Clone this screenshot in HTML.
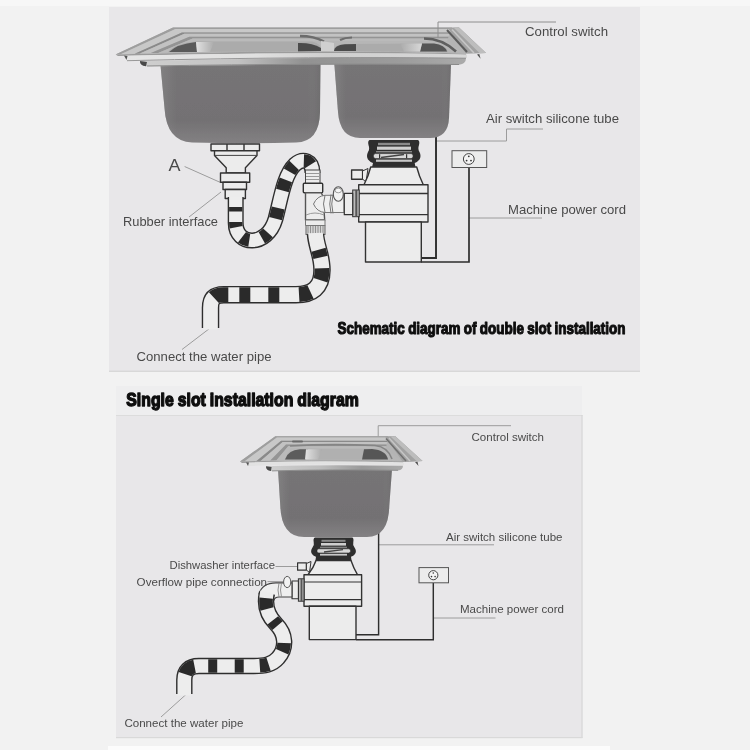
<!DOCTYPE html>
<html>
<head>
<meta charset="utf-8">
<title>Installation diagram</title>
<style>
  html, body { margin: 0; padding: 0; background: #f2f2f2; }
  body { width: 750px; height: 750px; overflow: hidden; position: relative;
         font-family: "Liberation Sans", sans-serif; }
  svg { position: absolute; left: 0; top: 0; display: block; }
  text { font-family: "Liberation Sans", sans-serif; }
  .lbl { fill: #4a4a4a; font-size: 13px; }
  .lbl2 { fill: #4a4a4a; font-size: 11.4px; }
  .ttl { fill: #0a0a0a; font-weight: bold; stroke: #0a0a0a; stroke-width: 1.15px; stroke-linejoin: round; word-spacing: -0.5px; }
  .ln { stroke: #9c9c9c; stroke-width: 1; fill: none; }
  .wire { stroke: #2e2e2e; stroke-width: 1.45; fill: none; }
  .ol { stroke: #333; stroke-width: 1.4; fill: #ececec; stroke-linejoin: round; }
</style>
</head>
<body>
<svg width="750" height="750" viewBox="0 0 750 750">
  <defs>
    <filter id="soft" x="0" y="0" width="750" height="750" filterUnits="userSpaceOnUse"><feGaussianBlur stdDeviation="0.55"/></filter>
    <filter id="soft2" x="0" y="0" width="750" height="750" filterUnits="userSpaceOnUse"><feGaussianBlur stdDeviation="0.35"/></filter>
    <linearGradient id="bowlV" x1="0" y1="0" x2="0" y2="1">
      <stop offset="0" stop-color="#767476"/>
      <stop offset="0.72" stop-color="#737173"/>
      <stop offset="1" stop-color="#838183"/>
    </linearGradient>
    <linearGradient id="bowlH" x1="0" y1="0" x2="1" y2="0">
      <stop offset="0" stop-color="#8a8a8a" stop-opacity="0.55"/>
      <stop offset="0.1" stop-color="#888" stop-opacity="0"/>
      <stop offset="0.92" stop-color="#888" stop-opacity="0"/>
      <stop offset="1" stop-color="#666" stop-opacity="0.4"/>
    </linearGradient>
    <linearGradient id="rimTop" x1="0" y1="0" x2="0" y2="1">
      <stop offset="0" stop-color="#8a8a8a"/>
      <stop offset="0.15" stop-color="#d2d2d2"/>
      <stop offset="0.35" stop-color="#9c9c9c"/>
      <stop offset="0.55" stop-color="#c8c8c8"/>
      <stop offset="0.8" stop-color="#a4a4a4"/>
      <stop offset="1" stop-color="#8c8c8c"/>
    </linearGradient>
    <linearGradient id="fadeL" x1="0" y1="0" x2="1" y2="0">
      <stop offset="0" stop-color="#e2e2e2"/><stop offset="1" stop-color="#ababab"/>
    </linearGradient>
    <linearGradient id="fadeR" x1="0" y1="0" x2="1" y2="0">
      <stop offset="0" stop-color="#ababab"/><stop offset="1" stop-color="#d8d8d8"/>
    </linearGradient>
    <linearGradient id="frontHi" x1="116" y1="0" x2="467" y2="0" gradientUnits="userSpaceOnUse">
      <stop offset="0" stop-color="#e6e6e6"/><stop offset="0.4" stop-color="#e0e0e0"/>
      <stop offset="0.6" stop-color="#cfcfcf"/><stop offset="1" stop-color="#d8d8d8"/>
    </linearGradient>
    <linearGradient id="frontLip" x1="140" y1="0" x2="466" y2="0" gradientUnits="userSpaceOnUse">
      <stop offset="0" stop-color="#cfcfcf"/><stop offset="0.3" stop-color="#c2c2c2"/>
      <stop offset="0.5" stop-color="#929292"/><stop offset="0.8" stop-color="#9c9c9c"/><stop offset="1" stop-color="#aaa"/>
    </linearGradient>
    <linearGradient id="frontLip2" x1="266" y1="0" x2="403" y2="0" gradientUnits="userSpaceOnUse">
      <stop offset="0" stop-color="#cfcfcf"/><stop offset="0.4" stop-color="#bdbdbd"/>
      <stop offset="0.7" stop-color="#9a9a9a"/><stop offset="1" stop-color="#aaa"/>
    </linearGradient>
  </defs>

  <!-- backgrounds -->
  <rect x="0" y="0" width="750" height="750" fill="#f2f2f2"/>
  <rect x="0" y="0" width="750" height="6" fill="#f7f7f7"/>
  <rect x="109" y="7" width="531" height="364.5" fill="#e8e7e9"/>
  <rect x="109" y="370.6" width="531" height="1.4" fill="#d8d8d8"/>
  <rect x="116" y="386" width="466" height="30" fill="#eeeeef"/>
  <rect x="116" y="415" width="466.5" height="323" fill="#e8e7e9"/>
  <rect x="116" y="415" width="466.5" height="1" fill="#dcdcdc"/>
  <rect x="581.5" y="415" width="1" height="323" fill="#d4d4d4"/>
  <rect x="116" y="737" width="466.5" height="1.2" fill="#d9d9d9"/>
  <rect x="108" y="746" width="502" height="4" fill="#fcfcfc"/>

  <!-- ============ TOP DIAGRAM ============ -->
  <g id="top" filter="url(#soft)">
    <!-- label leader lines -->
    <path class="ln" d="M436,141 H506.5 V129 H543"/>
    <path class="ln" d="M469,218 H542"/>
    <path class="ln" d="M184.6,166.5 L220.5,182.5"/>
    <path class="ln" d="M221,192 L189,217"/>
    <path class="ln" d="M211.5,327 L182,349.5"/>

    <!-- wires -->
    <path class="wire" d="M436,133 V258 H421" style="stroke-width:1.9"/>
    <path class="wire" d="M421,262 H469 V167" style="stroke-width:1.7"/>
    <!-- outlet -->
    <rect x="452" y="150.7" width="34.7" height="16.8" fill="#ececec" stroke="#555" stroke-width="1"/>
    <circle cx="468.8" cy="159" r="5.4" fill="#f4f4f4" stroke="#444" stroke-width="1"/>
    <circle cx="468.8" cy="156.3" r="0.9" fill="#333"/>
    <circle cx="466.6" cy="160.6" r="0.9" fill="#333"/>
    <circle cx="471" cy="160.6" r="0.9" fill="#333"/>

    <!-- bowls -->
    <path d="M160.5,65 L164.5,108 Q166.5,141.5 192,142.5 Q245,144 296,142.5 Q319.5,142 320,112 L320.5,63 Z" fill="url(#bowlV)"/>
    <path d="M160.5,65 L164.5,108 Q166.5,141.5 192,142.5 Q245,144 296,142.5 Q319.5,142 320,112 L320.5,63 Z" fill="url(#bowlH)"/>
    <path d="M334.3,63 L338,112 Q340,138 360,138 L430,138 Q448,138 449,118 L451,64 Z" fill="url(#bowlV)"/>
    <path d="M334.3,63 L338,112 Q340,138 360,138 L430,138 Q448,138 449,118 L451,64 Z" fill="url(#bowlH)"/>

    <!-- rim top surface -->
    <path d="M173,27.5 L459,27.5 L486,53 L466,53.5 Q320,49 115.5,54.5 Z" fill="#b4b4b4"/>
    <path d="M115.5,54.5 L173.0,27.5 L452.0,27.5 L451.5,28.9 L175.4,28.9 L120.7,54.3 Z" fill="#9e9e9e"/>
    <path d="M120.7,54.3 L175.4,28.9 L451.5,28.9 L450.1,32.5 L181.9,32.5 L134.7,53.8 Z" fill="#c8c8c8"/>
    <path d="M134.7,53.8 L181.9,32.5 L450.1,32.5 L449.6,33.8 L184.3,33.8 L139.9,53.6 Z" fill="#8a8a8a"/>
    <path d="M139.9,53.6 L184.3,33.8 L449.6,33.8 L448.6,36.7 L189.3,36.7 L150.9,53.1 Z" fill="#c2c2c2"/>
    <path d="M150.9,53.1 L189.3,36.7 L448.6,36.7 L447.9,38.6 L192.7,38.6 L158.1,52.9 Z" fill="#949494"/>
    <path d="M158.1,52.9 L192.7,38.6 L447.9,38.6 L447.0,41.0 L197.0,41.0 L167.5,52.5 Z" fill="#bababa"/>
    <path d="M167.5,52.8 L197,41 L447,41 L463,52.5 Q320,49.5 167.5,52.8 Z" fill="#b6b6b6"/>
    <!-- right flange -->
    <path d="M448,28 L459,27.5 L486,53 L466,53.5 Z" fill="#a2a2a2"/>
    <path d="M454,28 L459,27.5 L486,53 L480,53.5 Z" fill="#bdbdbd"/>
    <path d="M447,30 L467,52" stroke="#5c5c5c" stroke-width="2"/>
    <path d="M452,29.5 L474,53" stroke="#c6c6c6" stroke-width="1.6"/>
    <path d="M477,54.5 L480.6,58.8 L479.3,54 Z" fill="#505050"/>
    <!-- inner basins -->
    <path d="M168,52 Q176,43 196,41.5 L312,41.5 Q322,44 322,51 Z" fill="#ababab"/>
    <path d="M169,52 Q177,44 196,42 L197,52 Z" fill="#5a5a5a"/>
    <path d="M196,42 L214,42 L210,52 L197,52 Z" fill="url(#fadeL)"/>
    <path d="M298,43 Q312,42.5 321,48 L321,51 L298,51.5 Z" fill="#4c4c4c"/>
    <path d="M300,36 Q314,36 324,41.5" stroke="#6c6c6c" stroke-width="2.4" fill="none"/>
    <path d="M334,51 Q334,45.5 342,44 L434,43.5 Q446,45 448,52 Z" fill="#ababab"/>
    <path d="M334,51 Q334,45.5 345,44.3 L356,44 L356,51 Z" fill="#4c4c4c"/>
    <path d="M340,40 Q345,37.5 352,37.5" stroke="#6c6c6c" stroke-width="2.2" fill="none"/>
    <path d="M422,43.5 L434,43.5 Q445,45 447,51.5 L420,51.5 Z" fill="#555"/>
    <path d="M400,43.5 L422,43.5 L420,51.5 L404,51.5 Z" fill="url(#fadeR)"/>
    <path d="M424,38.5 Q442,38.5 456,51.5" stroke="#5e5e5e" stroke-width="2.6" fill="none"/>
    <!-- divider bridge -->
    <path d="M321,41 L334,43 L334,52 L321,52 Z" fill="#cfcfcf"/>
    <!-- front band -->
    <path d="M115.5,54.5 Q320,49 466,53.5 L466,55 Q320,51.5 118,56 Z" fill="#9c9c9c"/>
    <path d="M124,55.8 Q320,51 467,54.5 L467,58 Q320,55 126,60.5 Z" fill="url(#frontHi)"/>
    <path d="M124,55.5 L126.5,60 L127.5,56 Z" fill="#555"/>
    <path d="M140,61 Q320,56.5 466,58 Q466,64 459,64.7 Q320,63.5 146,66.3 Q140,66 140,61 Z" fill="url(#frontLip)"/>
    <path d="M140,61 Q139.5,65.5 146,66.3 L147,62 Z" fill="#4a4a4a"/>
    <path d="M147,66 Q320,63.3 459,64.5" stroke="#8a8a8a" stroke-width="1" fill="none"/>
    <path d="M127,60.7 Q320,56 466,58.2" stroke="#8f8f8f" stroke-width="0.9" fill="none"/>

    <path class="ln" d="M438,37.5 V22 H556" style="stroke:#8e8e8e"/>
    <!-- left drain fitting -->
    <rect class="ol" x="211" y="144" width="48.5" height="6.8"/>
    <path class="ol" d="M227,144 V150.8 M244,144 V150.8" />
    <path class="ol" d="M214.5,150.8 H257 V155.4 L245.4,167.7 V173 H226.2 V167.7 L214.5,155.4 Z"/>
    <path d="M214.5,155.4 H257" stroke="#444" stroke-width="1"/>
    <rect class="ol" x="220.5" y="173" width="29.2" height="9.2"/>
    <rect class="ol" x="223" y="182.2" width="23.5" height="7.3"/>
    <rect class="ol" x="225.2" y="189.5" width="20.2" height="9"/>

    <!-- hose 1 -->
    <path id="h1" d="M235.7,197 L235.7,223 C235.7,246 267,248 275.5,219 C281,198 284,175 295,164.5 C303,157.5 312.5,160.5 312.5,173" fill="none" stroke="#2e2e2e" stroke-width="16"/>
    <path d="M235.7,197 L235.7,223 C235.7,246 267,248 275.5,219 C281,198 284,175 295,164.5 C303,157.5 312.5,160.5 312.5,173" fill="none" stroke="#ededed" stroke-width="13.2"/>
    <path d="M235.7,197 L235.7,223 C235.7,246 267,248 275.5,219 C281,198 284,175 295,164.5 C303,157.5 312.5,160.5 312.5,173" fill="none" stroke="#2b2b2b" stroke-width="13.2" stroke-dasharray="0 10 4.5 10.5 5 12 8 13 8 16 11 18 11 9 8 11 8 100"/>

    <!-- T junction -->
    <rect x="305.5" y="170" width="14.5" height="14" fill="#ececec" stroke="#444" stroke-width="1"/>
    <path d="M306,173.5 H320 M306,176.5 H320 M306,179.5 H320" stroke="#999" stroke-width="1"/>
    <rect class="ol" x="303.3" y="183.3" width="19.4" height="9.4" rx="1"/>
    <path class="ol" d="M305.5,192.7 H321 L323,196 L324.7,220 H305.5 Z" style="stroke:#555"/>
    <path d="M306,215 Q315,211 324,215" stroke="#999" fill="none"/>
    <rect x="306" y="225.5" width="19" height="9" fill="#d4d4d4" stroke="#666" stroke-width="1"/>
    <path d="M308,226 V234 M310.5,226 V234 M313,226 V234 M315.5,226 V234 M318,226 V234 M320.5,226 V234 M323,226 V234" stroke="#888" stroke-width="0.9"/>
    <path d="M305.5,220 H325 V225.5 H305.5 Z" fill="#ececec" stroke="#777" stroke-width="1"/>
    <!-- side branch -->
    <path d="M313.5,204 Q317,196 325,195.3 H344 V212.5 H325 Q317,212 313.5,204 Z" fill="#efefef" stroke="#777" stroke-width="1"/>
    <path d="M325,195.3 Q322,204 325,212.5 M331,194.5 Q328.5,204 331,213.5 M333,194.5 Q330.5,204 333,213.5" stroke="#777" fill="none" stroke-width="1"/>
    <ellipse cx="338.3" cy="194" rx="5" ry="7.2" fill="#f2f2f2" stroke="#555" stroke-width="1.1"/>
    <ellipse cx="338.3" cy="190.5" rx="3.2" ry="2.3" fill="#f6f6f6" stroke="#888" stroke-width="0.8"/>

    <!-- hose 2 -->
    <path d="M315.5,234 C316,246 322,255 322,270 C322,288 312,294.7 296,294.7 L224,294.7 C214.5,294.7 210.5,298.5 210.5,308 L210.5,328" fill="none" stroke="#2e2e2e" stroke-width="17.5"/>
    <path d="M315.5,233 C316,246 322,255 322,270 C322,288 312,294.7 296,294.7 L224,294.7 C214.5,294.7 210.5,298.5 210.5,308 L210.5,329.5" fill="none" stroke="#ededed" stroke-width="14.7"/>
    <path d="M315.5,234 C316,246 322,255 322,270 C322,288 312,294.7 296,294.7 L224,294.7 C214.5,294.7 210.5,298.5 210.5,308 L210.5,328" fill="none" stroke="#2b2b2b" stroke-width="14.7" stroke-dasharray="0 16 8 11 12 16 12 19.5 11 18 11 11 15 100"/>

    <!-- disposer -->
    <rect class="ol" x="351.6" y="170" width="11" height="9.3"/>
    <path class="ol" d="M362.5,171 L368,168.5 L366,182 L362.5,179 Z" style="stroke-width:1"/>
    <!-- neck -->
    <path d="M369.5,140 H418 Q420,141 419,145 Q417.5,149 419.5,152 Q421.5,156 419.5,159.5 Q417.5,162 414.7,163 L415.5,167.3 H372 L373,163 Q370,162 368,159.5 Q366,156 368,152 Q370,149 368.5,145 Q367.5,141 369.5,140 Z" fill="#2d2d2d"/>
    <rect x="378" y="142.8" width="32" height="2.4" fill="#8a8a8a"/>
    <rect x="377" y="146.6" width="34" height="3.2" fill="#cfcfcf"/>
    <rect x="376" y="151" width="36" height="1.4" fill="#888"/>
    <rect x="373.5" y="153.6" width="39.5" height="5" rx="2" fill="#d8d8d8" stroke="#2d2d2d" stroke-width="0.6"/>
    <path d="M381,157.5 L404,154.5" stroke="#444" stroke-width="1.6"/>
    <rect x="379" y="154.2" width="1.2" height="4" fill="#333"/><rect x="406" y="154.2" width="1.2" height="4" fill="#333"/>
    <rect x="376" y="159.6" width="36" height="2.2" fill="#c8c8c8"/>
    <!-- dome -->
    <path class="ol" d="M370.7,167 H416.7 Q419,176 423.3,184.7 H364 Q368.5,176 370.7,167 Z"/>
    <!-- band -->
    <rect class="ol" x="358.7" y="184.7" width="69.3" height="37.3"/>
    <path d="M358.7,193.5 H428 M358.7,214.7 H428" stroke="#333" stroke-width="1.3"/>
    <!-- lower body -->
    <rect class="ol" x="365.5" y="222" width="55.8" height="40"/>
    <!-- side outlet -->
    <rect x="352.7" y="190" width="6.5" height="26.7" fill="#bbb" stroke="#333" stroke-width="1"/>
    <rect x="355.3" y="190" width="2" height="26.7" fill="#555"/>
    <rect class="ol" x="344.3" y="193.3" width="8.4" height="21.4" style="stroke-width:1.2"/>
  </g>

  <!-- ============ BOTTOM DIAGRAM ============ -->
  <g id="bottom" filter="url(#soft)">
    <!-- leader lines -->
    <path class="ln" d="M378.2,438 V425.7 H511"/>
    <path class="ln" d="M378,544.8 H494"/>
    <path class="ln" d="M433.3,618 H495.5"/>
    <path class="ln" d="M275.5,566.5 H297.6"/>
    <path class="ln" d="M267.5,581.6 H283"/>
    <path class="ln" d="M186,694.5 L161,717"/>
    <!-- wires -->
    <path class="wire" d="M378.6,531 V634.8 H356"/>
    <path class="wire" d="M356,639.8 H433.3 V582.8"/>
    <!-- outlet -->
    <rect x="419" y="567.6" width="29.5" height="15.2" fill="#ececec" stroke="#555" stroke-width="1"/>
    <circle cx="433.3" cy="575.2" r="4.6" fill="#f4f4f4" stroke="#444" stroke-width="1"/>
    <circle cx="433.3" cy="573" r="0.8" fill="#333"/>
    <circle cx="431.5" cy="576.6" r="0.8" fill="#333"/>
    <circle cx="435.1" cy="576.6" r="0.8" fill="#333"/>

    <!-- bowl -->
    <path d="M278,469 L280.3,506 Q281.5,537 304,537 L367,537 Q388.5,537 389.3,506 L392,469 Z" fill="url(#bowlV)"/>
    <path d="M278,469 L280.3,506 Q281.5,537 304,537 L367,537 Q388.5,537 389.3,506 L392,469 Z" fill="url(#bowlH)"/>

    <!-- rim -->
    <path d="M275.3,436.2 L395.3,436.2 L422.5,461 L403,462 Q320,459 240,461.5 Z" fill="#b4b4b4"/>
    <path d="M240.0,461.5 L275.3,436.2 L388.0,436.2 L387.8,437.4 L276.9,437.4 L244.4,461.4 Z" fill="#9e9e9e"/>
    <path d="M244.4,461.4 L276.9,437.4 L387.8,437.4 L387.3,440.8 L281.1,440.8 L256.5,460.9 Z" fill="#c8c8c8"/>
    <path d="M256.5,460.9 L281.1,440.8 L387.3,440.8 L387.1,442.0 L282.7,442.0 L260.9,460.8 Z" fill="#8a8a8a"/>
    <path d="M260.9,460.8 L282.7,442.0 L387.1,442.0 L386.6,444.6 L286.0,444.6 L270.3,460.5 Z" fill="#c2c2c2"/>
    <path d="M270.3,460.5 L286.0,444.6 L386.6,444.6 L386.4,446.3 L288.2,446.3 L276.5,460.3 Z" fill="#949494"/>
    <path d="M276.5,460.3 L288.2,446.3 L386.4,446.3 L386.0,448.5 L291.0,448.5 L284.5,460.0 Z" fill="#bababa"/>
    <path d="M284.5,460 L291,448.5 L386,448.5 L401,460.5 Q320,458.5 284.5,460 Z" fill="#b6b6b6"/>
    <rect x="292" y="440.6" width="11" height="2" rx="1" fill="#6a6a6a"/>
    <!-- right flange -->
    <path d="M385,436.5 L395.3,436.2 L422.5,461 L403,462 Z" fill="#a2a2a2"/>
    <path d="M390.5,436.5 L395.3,436.2 L422.5,461 L417,461.5 Z" fill="#bdbdbd"/>
    <path d="M386,438.5 L406,461" stroke="#6f6f6f" stroke-width="1.5"/>
    <path d="M389,438 L410,461" stroke="#c6c6c6" stroke-width="1.5"/>
    <path d="M415,462 L418.5,466 L417.5,461.8 Z" fill="#505050"/>
    <!-- basin interior -->
    <path d="M285,459.5 Q288,450 300,449 L372,449 Q386,450 388,459.5 Z" fill="#b0b0b0"/>
    <path d="M285,459.5 Q288,450 300,449.3 L308,449.3 L306,459.5 Z" fill="#5c5c5c"/>
    <path d="M306,449.3 L322,449.3 L318,459.5 L305,459.5 Z" fill="url(#fadeL)"/>
    <path d="M364,449.3 L372,449 Q386,450 388,459.5 L362,459.5 Z" fill="#575757"/>
    <path d="M290,446 Q330,443.5 375,445.5 Q388,447 392,459" stroke="#858585" stroke-width="1.6" fill="none"/>
    <!-- front band -->
    <path d="M240,461.5 Q320,459 403,461.5 L403,463 Q320,460.5 242,463 Z" fill="#9c9c9c"/>
    <path d="M246,462.5 Q320,460 404,462.3 L404,465.3 Q320,463.5 248,466 Z" fill="#e2e2e2"/>
    <path d="M246,462.3 L248,466 L249,462.6 Z" fill="#555"/>
    <path d="M266,466.3 Q320,464.5 403,465.8 Q403,470 398,470.5 Q330,469.5 271,471 Q266,470.7 266,466.3 Z" fill="url(#frontLip2)"/>
    <path d="M266,466.3 Q265.7,470.3 271,471 L271.6,467 Z" fill="#4a4a4a"/>
    <path d="M272,470.9 Q330,469.3 398,470.3" stroke="#8a8a8a" stroke-width="0.9" fill="none"/>

    <!-- disposer -->
    <rect class="ol" x="297.6" y="562.8" width="8.8" height="7.4" style="stroke-width:1.2"/>
    <path class="ol" d="M306.4,563.5 L311,561.5 L309.5,572.5 L306.4,570 Z" style="stroke-width:1"/>
    <!-- neck -->
    <path d="M315,537.6 H352.3 Q354,538.5 353.3,542 Q352.5,545 354.5,547.5 Q357,551 355,554 Q353.5,556 351,556.8 L351.6,560.7 H315.4 L316,556.8 Q313.5,556 312,554 Q310,551 312.5,547.5 Q314.5,545 313.7,542 Q313,538.5 315,537.6 Z" fill="#2d2d2d"/>
    <rect x="321.5" y="539.8" width="24" height="2" fill="#8a8a8a"/>
    <rect x="321" y="543" width="25" height="2.6" fill="#cfcfcf"/>
    <rect x="320" y="546.7" width="27" height="1.2" fill="#888"/>
    <rect x="317" y="548.8" width="33.5" height="4.2" rx="1.8" fill="#d8d8d8" stroke="#2d2d2d" stroke-width="0.6"/>
    <path d="M324,552 L343,549.6" stroke="#444" stroke-width="1.4"/>
    <rect x="320" y="553.8" width="27" height="1.8" fill="#c8c8c8"/>
    <!-- dome -->
    <path class="ol" d="M316,560.5 H351 Q353.5,568 357.6,574.8 H308 Q313.5,568 316,560.5 Z"/>
    <!-- band -->
    <rect class="ol" x="304" y="574.8" width="57.6" height="31.4"/>
    <path d="M304,582 H361.6 M304,599.6 H361.6" stroke="#333" stroke-width="1.2"/>
    <!-- lower body -->
    <rect class="ol" x="309.3" y="606.2" width="46.7" height="33.4"/>
    <!-- side outlet -->
    <rect x="298.4" y="578.8" width="5.6" height="22.4" fill="#bbb" stroke="#333" stroke-width="1"/>
    <rect x="300.6" y="578.8" width="1.8" height="22.4" fill="#555"/>
    <rect class="ol" x="292" y="581" width="6.4" height="17.8" style="stroke-width:1.1"/>
    <!-- elbow pipe -->
    <path d="M292,582.8 H276 Q262,583 259,594 L274,600 Q275,597 279,597 H292 Z" fill="#efefef" stroke="#444" stroke-width="1.2"/>
    <path d="M279,583 Q277,590 279,597 M281.5,583 Q279.5,590 281.5,597" stroke="#888" stroke-width="0.9" fill="none"/>
    <ellipse cx="287.2" cy="582" rx="3.6" ry="5.6" fill="#f2f2f2" stroke="#555" stroke-width="1"/>

    <!-- hose -->
    <path d="M267,593 C264,606 268,616 276,624 C286,634 287,648 278,658 C272,665 264,666 254,666 L199,666 C189,666 184.3,671 184.3,680 L184.3,694" fill="none" stroke="#2e2e2e" stroke-width="16.4"/>
    <path d="M267,592 C264,606 268,616 276,624 C286,634 287,648 278,658 C272,665 264,666 254,666 L199,666 C189,666 184.3,671 184.3,680 L184.3,695.5" fill="none" stroke="#ededed" stroke-width="13.6"/>
    <path d="M267,593 C264,606 268,616 276,624 C286,634 287,648 278,658 C272,665 264,666 254,666 L199,666 C189,666 184.3,671 184.3,680 L184.3,694" fill="none" stroke="#2b2b2b" stroke-width="13.6" stroke-dasharray="0 5 11 13 7 19 9 19 9 16 9 17.5 9 13.5 13 100"/>
  </g>

  <!-- ============ TEXT ============ -->
  <g id="labels" filter="url(#soft2)">
    <text class="lbl" x="525" y="36" textLength="83" lengthAdjust="spacingAndGlyphs">Control switch</text>
    <text class="lbl" x="486" y="123" textLength="133" lengthAdjust="spacingAndGlyphs">Air switch silicone tube</text>
    <text class="lbl" x="508" y="214" textLength="118" lengthAdjust="spacingAndGlyphs">Machine power cord</text>
    <text class="lbl" x="168.6" y="170.6" style="font-size:16.5px" textLength="12" lengthAdjust="spacingAndGlyphs">A</text>
    <text class="lbl" x="123" y="225.5" textLength="95" lengthAdjust="spacingAndGlyphs">Rubber interface</text>
    <text class="lbl" x="136.5" y="361" textLength="135" lengthAdjust="spacingAndGlyphs">Connect the water pipe</text>
    <text class="ttl" x="337.5" y="333.6" style="font-size:17.2px" textLength="288" lengthAdjust="spacingAndGlyphs">Schematic diagram of double slot installation</text>

    <text class="ttl" x="126.3" y="406" style="font-size:19px;stroke-width:1.35px" textLength="232.5" lengthAdjust="spacingAndGlyphs">Single slot installation diagram</text>
    <text class="lbl2" x="471.5" y="441" textLength="72.5" lengthAdjust="spacingAndGlyphs">Control switch</text>
    <text class="lbl2" x="446" y="541.2" textLength="116.5" lengthAdjust="spacingAndGlyphs">Air switch silicone tube</text>
    <text class="lbl2" x="460" y="613" textLength="104" lengthAdjust="spacingAndGlyphs">Machine power cord</text>
    <text class="lbl2" x="169.5" y="568.6" textLength="105.5" lengthAdjust="spacingAndGlyphs">Dishwasher interface</text>
    <text class="lbl2" x="136.6" y="586" textLength="130.5" lengthAdjust="spacingAndGlyphs">Overflow pipe connection</text>
    <text class="lbl2" x="124.4" y="727" textLength="119" lengthAdjust="spacingAndGlyphs">Connect the water pipe</text>
  </g>
</svg>
</body>
</html>
